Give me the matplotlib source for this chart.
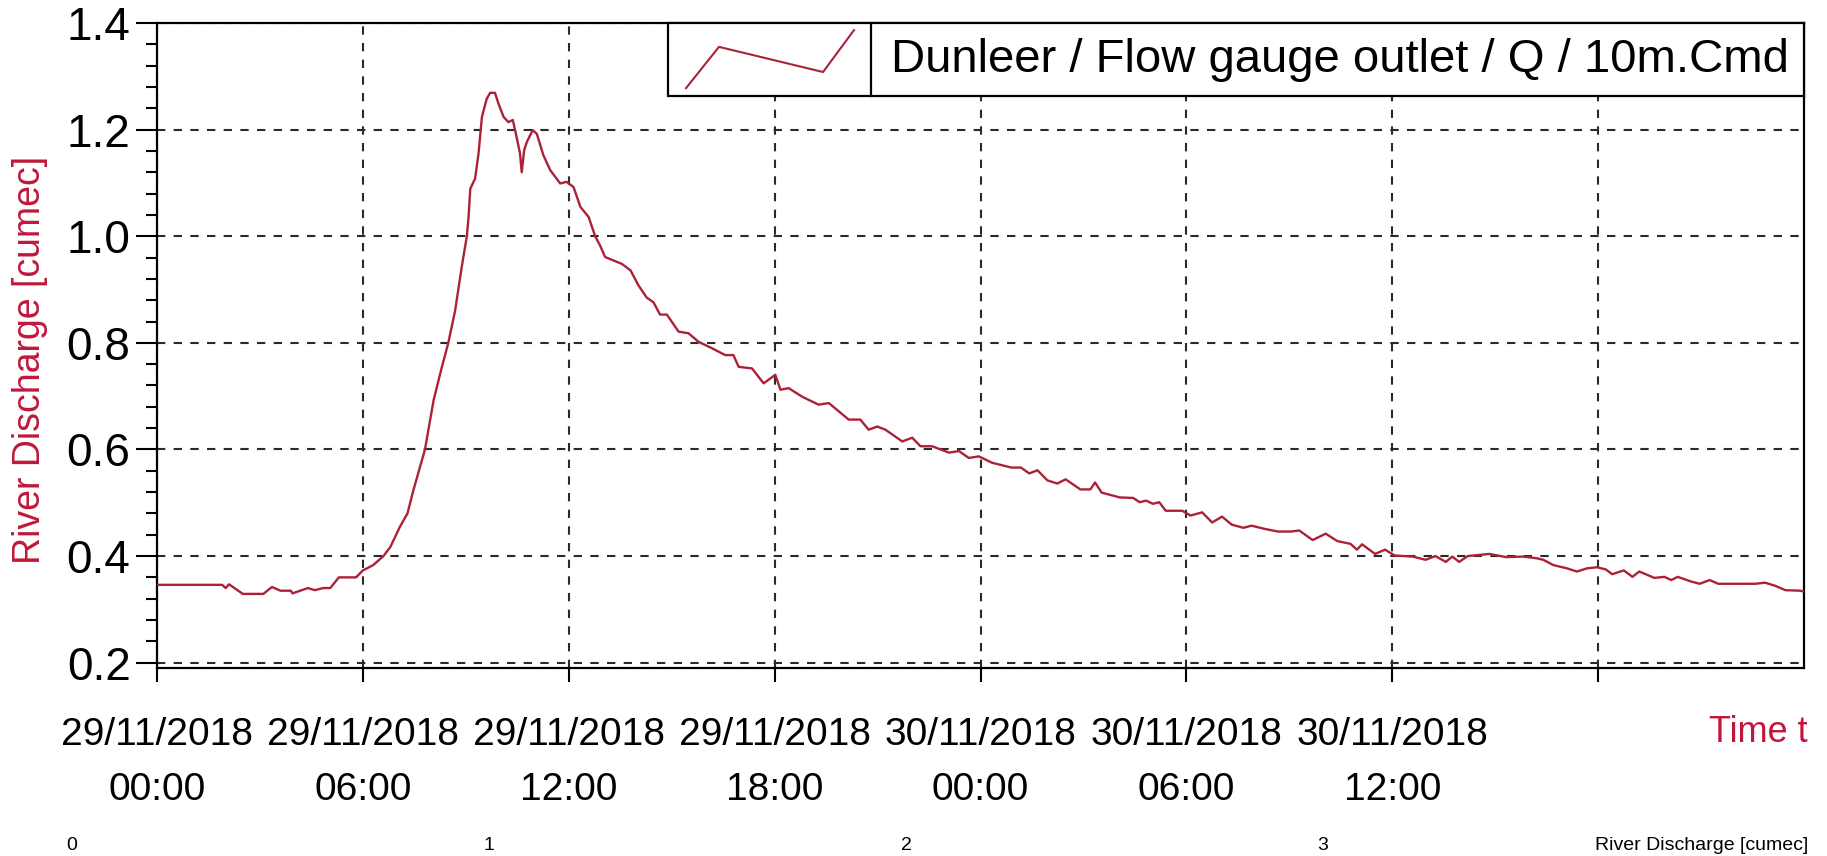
import matplotlib
matplotlib.use("Agg")
import matplotlib.pyplot as plt
from matplotlib.ticker import MultipleLocator
from matplotlib.lines import Line2D
from matplotlib.patches import Rectangle

plt.rcParams['font.family'] = ['Liberation Sans', 'DejaVu Sans']

# hours after 29/11/2018 00:00, discharge in cumec
hours = [0.0, 1.9, 2.0, 2.1, 2.5, 3.1, 3.35, 3.6, 3.9, 3.95, 4.4, 4.6, 4.85, 5.05,
         5.3, 5.8, 6.0, 6.3, 6.6, 6.8, 7.08, 7.3, 7.47, 7.81, 8.06, 8.30, 8.49,
         8.69, 8.88, 9.03, 9.08, 9.13, 9.27, 9.37, 9.47, 9.61, 9.71, 9.85, 9.95,
         10.1, 10.24, 10.37, 10.49, 10.58, 10.63, 10.70, 10.78, 10.95, 11.07,
         11.26, 11.46, 11.75, 11.94, 12.14, 12.34, 12.58, 12.77, 12.91, 13.06,
         13.55, 13.8, 14.03, 14.27, 14.47, 14.66, 14.86, 15.2, 15.49, 15.78,
         16.17, 16.56, 16.8, 16.95, 17.34, 17.68, 18.02, 18.17, 18.41, 18.8,
         19.28, 19.58, 20.16, 20.5, 20.74, 20.99, 21.23, 21.72, 22.01, 22.25,
         22.59, 23.08, 23.37, 23.66, 23.95, 24.34, 24.9, 25.18, 25.42, 25.66,
         25.95, 26.24, 26.48, 26.91, 27.2, 27.34, 27.53, 28.06, 28.45, 28.64,
         28.83, 29.02, 29.21, 29.4, 29.88, 30.12, 30.46, 30.75, 31.04, 31.32,
         31.66, 31.9, 32.28, 32.67, 33.05, 33.29, 33.68, 34.06, 34.4, 34.78,
         34.97, 35.12, 35.5, 35.79, 36.07, 36.6, 36.97, 37.26, 37.56, 37.75,
         37.95, 38.2, 38.83, 39.32, 39.81, 40.2, 40.4, 40.7, 41.09, 41.38, 41.68,
         41.97, 42.22, 42.41, 42.75, 43.0, 43.2, 43.64, 43.93, 44.13, 44.32,
         44.72, 44.96, 45.25, 45.5, 46.58, 46.87, 47.17, 47.46, 47.9, 48.0]
flow = [0.346, 0.346, 0.340, 0.347, 0.329, 0.329, 0.342, 0.335, 0.335, 0.330,
        0.340, 0.336, 0.340, 0.340, 0.360, 0.360, 0.373, 0.383, 0.400, 0.417,
        0.455, 0.480, 0.523, 0.600, 0.692, 0.754, 0.800, 0.861, 0.942, 1.000,
        1.036, 1.089, 1.108, 1.155, 1.224, 1.258, 1.269, 1.269, 1.249, 1.224,
        1.214, 1.218, 1.183, 1.155, 1.120, 1.161, 1.177, 1.199, 1.192, 1.152,
        1.124, 1.099, 1.102, 1.092, 1.055, 1.036, 1.000, 0.983, 0.961, 0.948,
        0.936, 0.908, 0.885, 0.876, 0.853, 0.853, 0.821, 0.818, 0.802, 0.790,
        0.777, 0.777, 0.755, 0.752, 0.724, 0.740, 0.712, 0.715, 0.699, 0.684,
        0.687, 0.656, 0.656, 0.637, 0.643, 0.637, 0.615, 0.622, 0.606, 0.606,
        0.594, 0.597, 0.584, 0.587, 0.575, 0.566, 0.566, 0.555, 0.561, 0.542,
        0.536, 0.544, 0.525, 0.525, 0.538, 0.519, 0.510, 0.509, 0.501, 0.504,
        0.498, 0.501, 0.485, 0.485, 0.476, 0.482, 0.463, 0.474, 0.459, 0.453,
        0.457, 0.451, 0.446, 0.446, 0.448, 0.430, 0.442, 0.428, 0.423, 0.412,
        0.422, 0.404, 0.412, 0.401, 0.399, 0.393, 0.400, 0.389, 0.399, 0.389,
        0.400, 0.404, 0.398, 0.399, 0.396, 0.393, 0.383, 0.377, 0.371, 0.377,
        0.379, 0.375, 0.366, 0.373, 0.361, 0.371, 0.359, 0.361, 0.355, 0.361,
        0.352, 0.348, 0.355, 0.348, 0.348, 0.350, 0.344, 0.336, 0.335, 0.333]

tick_hours = [0, 6, 12, 18, 24, 30, 36, 42]
tick_dates = ['29/11/2018', '29/11/2018', '29/11/2018', '29/11/2018',
              '30/11/2018', '30/11/2018', '30/11/2018', '']
tick_times = ['00:00', '06:00', '12:00', '18:00', '00:00', '06:00', '12:00', '']
y_ticks = [0.2, 0.4, 0.6, 0.8, 1.0, 1.2, 1.4]

series_name = 'Dunleer / Flow gauge outlet / Q / 10m.Cmd'
footer_items = ['0', '1', '2', '3']
footer_unit = 'River Discharge [cumec]'

RED = '#ab2238'
TXT_RED = '#c0183a'

W, H = 1827, 856
fig = plt.figure(figsize=(W / 100, H / 100), dpi=100)
ax = fig.add_axes([157 / W, 1 - 668 / H, 1647 / W, 645 / H])

ax.plot(hours, flow, color=RED, lw=1.7, zorder=3)
ax.set_xlim(0, 48)
ax.set_ylim(0.19, 1.4)

labels = [d + '\n' + t if d else '' for d, t in zip(tick_dates, tick_times)]
ax.set_xticks(tick_hours)
ax.set_xticklabels(labels, fontsize=28, linespacing=1.7)
ax.set_yticks(y_ticks)
ax.set_yticklabels(['%.1f' % v for v in y_ticks], fontsize=33)
ax.yaxis.set_minor_locator(MultipleLocator(0.04))

ax.tick_params(axis='y', which='major', length=15, width=1.5, pad=4)
ax.tick_params(axis='y', which='minor', length=8, width=1.5)
ax.tick_params(axis='x', which='major', length=10, width=1.5, pad=25)

ax.grid(True, which='major', color='#2a2a2a', lw=1.5, ls=(0, (4, 4)))
for s in ax.spines.values():
    s.set_linewidth(1.6)
    s.set_color('black')

# legend box in the top right corner
ax.add_patch(Rectangle((0.310, 0.887), 0.690, 0.113, transform=ax.transAxes,
                       facecolor='white', edgecolor='black', lw=1.6,
                       zorder=5, clip_on=False))
ax.add_line(Line2D([0.4335, 0.4335], [0.887, 1.0], transform=ax.transAxes,
                   color='black', lw=1.6, zorder=6))
ax.add_line(Line2D([0.3212, 0.3412, 0.4044, 0.4232], [0.899, 0.963, 0.924, 0.989],
                   transform=ax.transAxes, color=RED, lw=1.5, zorder=6))
ax.text(0.4457, 0.943, series_name, transform=ax.transAxes, fontsize=34,
        va='center', ha='left', zorder=7)

fig.text(30 / W, 0.58, 'River Discharge [cumec]', rotation=90, color=TXT_RED,
         fontsize=27, ha='center', va='center')
fig.text(1808 / W, 1 - 732 / H, 'Time t', color=TXT_RED, fontsize=26,
         ha='right', va='center')

for i, lab in enumerate(footer_items):
    fig.text((72 + i * 417) / W, 1 - 845 / H, lab, fontsize=14,
             ha='center', va='center')
fig.text(1808 / W, 1 - 845 / H, footer_unit, fontsize=14, ha='right', va='center')

fig.savefig('out.png', dpi=100)
